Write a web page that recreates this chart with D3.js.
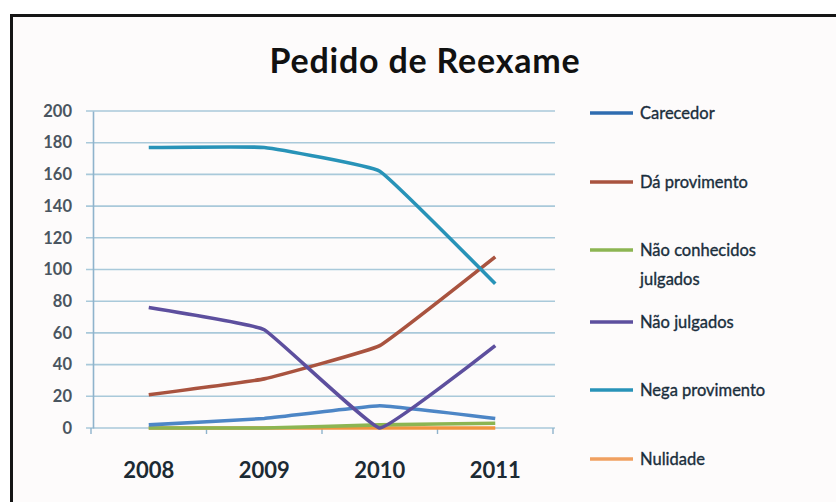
<!DOCTYPE html>
<html><head><meta charset="utf-8">
<script src="https://cdn.jsdelivr.net/npm/d3@7"></script>
<style>html,body{margin:0;padding:0;background:#fff;}svg{display:block;}</style>
</head><body><svg id="c" width="836" height="502"></svg>
<script>
const title = "Pedido de Reexame";
const years = ["2008", "2009", "2010", "2011"];
const seriesNames = ["Carecedor", "Dá provimento", "Não conhecidos julgados", "Não julgados", "Nega provimento", "Nulidade"];
const carecedor = [2, 6, 14, 6];
const daProvimento = [21, 31, 52, 108];
const naoConhecidosJulgados = [0, 0, 2, 3];
const naoJulgados = [76, 62, 0, 52];
const negaProvimento = [177, 177, 162, 91];
const nulidade = [0, 0, 0, 0];
const yTicks = [0, 20, 40, 60, 80, 100, 120, 140, 160, 180, 200];
const colors = ["#4d86c6", "#a9533f", "#8cb552", "#5d4f9e", "#2893b8", "#f0953f"];
const legendColors = ["#2f6cb0", "#a9533f", "#8cb552", "#5d4f9e", "#2893b8", "#f0a060"];
const values = [carecedor, daProvimento, naoConhecidosJulgados, naoJulgados, negaProvimento, nulidade];

const svg = d3.select("#c");
const font = "Lato, 'Open Sans', sans-serif";

svg.append("rect").attr("x", 0).attr("y", 0).attr("width", 836).attr("height", 502).attr("fill", "#ffffff");
svg.append("rect").attr("x", 11.5).attr("y", 15.5).attr("width", 840).attr("height", 500)
  .attr("fill", "#fdfbfb").attr("stroke", "#151515").attr("stroke-width", 3);

svg.append("text").attr("x", 425).attr("y", 73).attr("text-anchor", "middle")
  .attr("font-family", font).attr("font-weight", "bold").attr("font-size", 34)
  .attr("letter-spacing", 0.8).attr("fill", "#111")
  .text(title);

const x = d3.scaleBand().domain(years).range([91, 553]);
const y = d3.scaleLinear().domain([0, 200]).range([428, 111]);

const g = svg.append("g");
g.selectAll("line.grid").data(yTicks).join("line")
  .attr("x1", 86).attr("x2", 555)
  .attr("y1", d => y(d)).attr("y2", d => y(d))
  .attr("stroke", "#a9c9da").attr("stroke-width", 1.6);

const yAxis = g.append("g").attr("transform", "translate(93,0)")
  .call(d3.axisLeft(y).tickValues(yTicks).tickSize(0).tickPadding(21));
yAxis.select(".domain").attr("stroke", "#8fb3cc").attr("stroke-width", 1.6);
yAxis.selectAll("text").attr("font-family", font).attr("font-weight", "bold").attr("font-size", 16.5).attr("fill", "#4a5560");

const xAxis = g.append("g").attr("transform", "translate(0,428)")
  .call(d3.axisBottom(x).tickSize(0).tickPadding(34));
xAxis.select(".domain").remove();
xAxis.selectAll("text").attr("font-family", font).attr("font-weight", "bold").attr("font-size", 22).attr("fill", "#1c2a33");
const bounds = years.map(d => x(d)).concat([x.range()[1]]);
g.selectAll("line.xt").data(bounds).join("line")
  .attr("x1", d => d).attr("x2", d => d).attr("y1", 428).attr("y2", 434)
  .attr("stroke", "#8fb3cc").attr("stroke-width", 1.4);

const line = d3.line()
  .x((d, i) => x(years[i]) + x.bandwidth() / 2)
  .y(d => y(d))
  .curve(d3.curveCardinal.tension(0.75));

const order = [5, 2, 0, 1, 3, 4];
order.forEach(i => {
  g.append("path").attr("d", line(values[i])).attr("fill", "none")
    .attr("stroke", colors[i]).attr("stroke-width", 3.6).attr("stroke-linejoin", "round");
});

const legendY = [113, 182, 250, 322, 390, 459];
const lg = svg.append("g");
seriesNames.forEach((name, i) => {
  lg.append("line").attr("x1", 590).attr("x2", 633).attr("y1", legendY[i]).attr("y2", legendY[i])
    .attr("stroke", legendColors[i]).attr("stroke-width", 3.6);
  const t = lg.append("text").attr("x", 640).attr("y", legendY[i] + 5.5)
    .attr("font-family", font).attr("font-size", 16.5).attr("fill", "#1a2e3c")
    .attr("stroke", "#1a2e3c").attr("stroke-width", 0.35);
  if (name === "Não conhecidos julgados") {
    t.append("tspan").attr("x", 640).text("Não conhecidos");
    t.append("tspan").attr("x", 640).attr("dy", 29).text("julgados");
  } else {
    t.text(name);
  }
});
</script></body></html>
